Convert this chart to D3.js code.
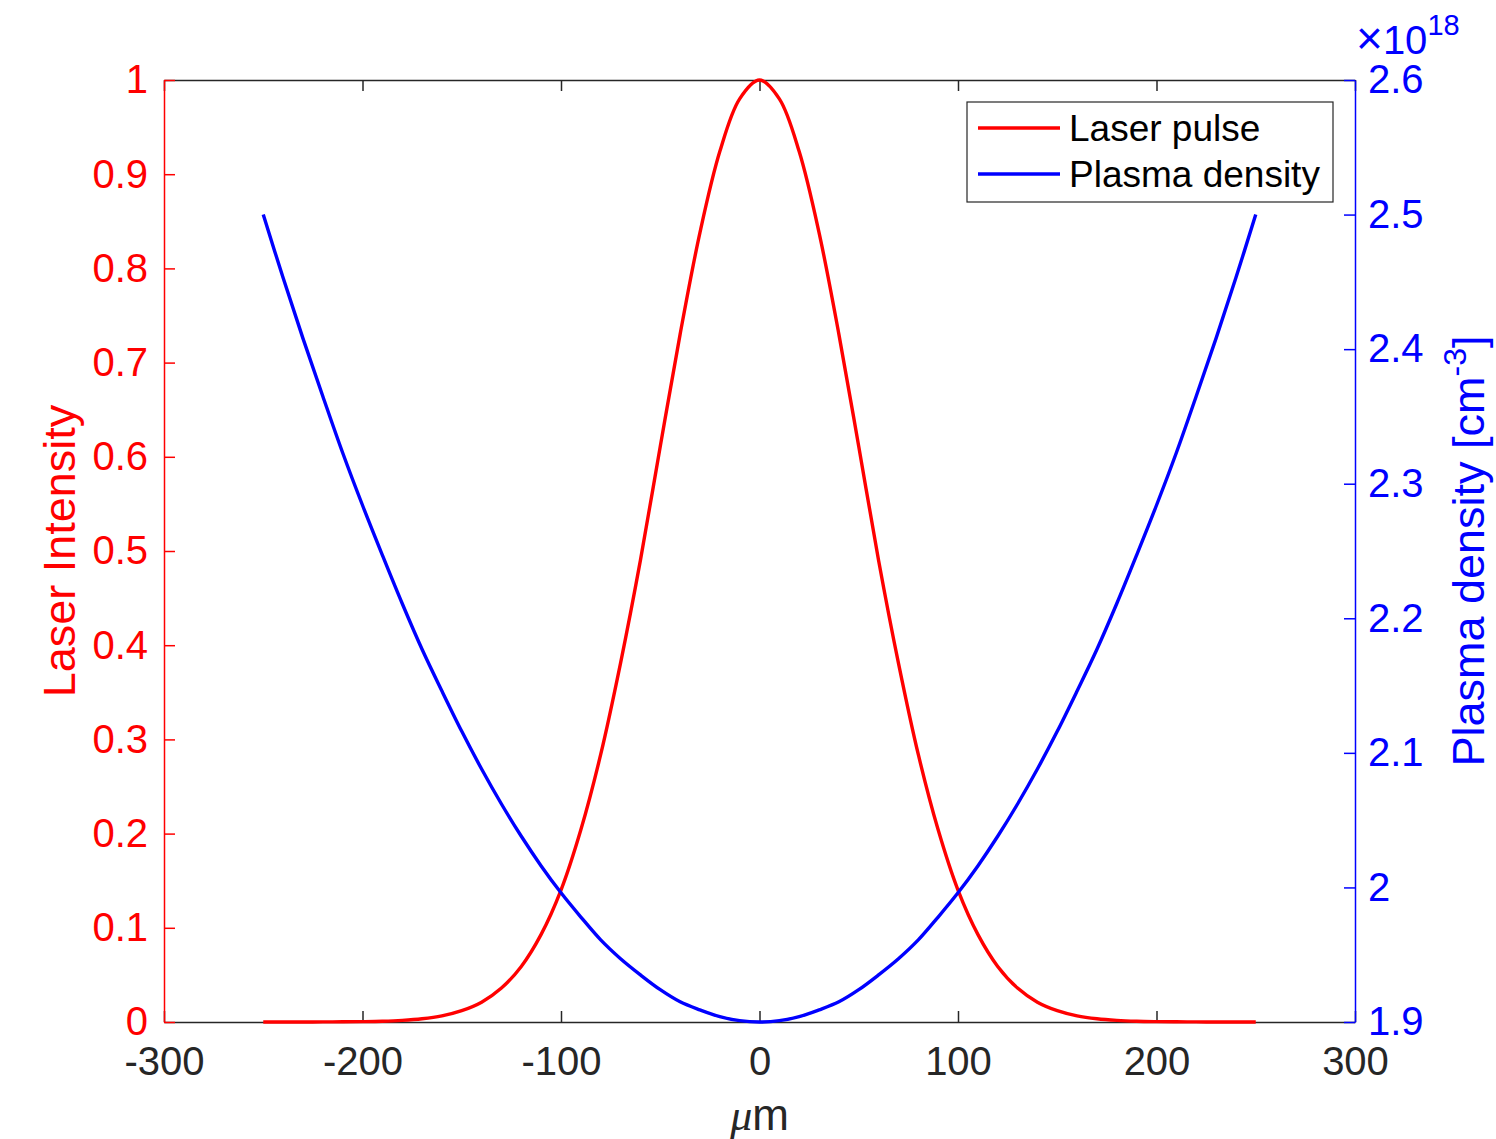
<!DOCTYPE html>
<html lang="en">
<head>
    <meta charset="UTF-8">
    <title>Laser pulse and plasma density</title>
    <script src="https://d3js.org/d3.v7.min.js"></script>
    <style>
        body { margin: 0; background: #fff; }
        svg { font-family: "Liberation Sans", Arial, Helvetica, sans-serif; }
        .tick text { font-size: 40px; }
        .curve { fill: none; stroke-width: 3.4px; }
    </style>
</head>
<body>
    <svg width="1496" height="1139"></svg>

    <script>
        // Data (position in um)
        const positions = [-250, -240, -230, -220, -210, -200, -190, -180, -170, -160, -150,
            -140, -130, -120, -110, -100, -90, -80, -70, -60, -50, -40, -30, -20, -10, 0,
            10, 20, 30, 40, 50, 60, 70, 80, 90, 100, 110, 120, 130, 140, 150,
            160, 170, 180, 190, 200, 210, 220, 230, 240, 250];

        const laserIntensity = [0, 0, 0, 0.0001, 0.0002, 0.0004, 0.0008, 0.0017, 0.0034, 0.0065, 0.012,
            0.021, 0.036, 0.059, 0.093, 0.140, 0.204, 0.284, 0.381, 0.490, 0.611, 0.730, 0.838, 0.924, 0.980, 1,
            0.980, 0.924, 0.838, 0.730, 0.611, 0.490, 0.381, 0.284, 0.204, 0.140, 0.093, 0.059, 0.036, 0.021, 0.012,
            0.0065, 0.0034, 0.0017, 0.0008, 0.0004, 0.0002, 0.0001, 0, 0, 0];

        // plasma density in units of 1e18 cm^-3
        const plasmaDensity = [2.500, 2.453, 2.408, 2.365, 2.323, 2.284, 2.247, 2.211, 2.177, 2.146, 2.116,
            2.088, 2.062, 2.038, 2.016, 1.996, 1.978, 1.961, 1.947, 1.935, 1.924, 1.915, 1.909, 1.904, 1.901, 1.900,
            1.901, 1.904, 1.909, 1.915, 1.924, 1.935, 1.947, 1.961, 1.978, 1.996, 2.016, 2.038, 2.062, 2.088, 2.116,
            2.146, 2.177, 2.211, 2.247, 2.284, 2.323, 2.365, 2.408, 2.453, 2.500];

        const xTicks = [-300, -200, -100, 0, 100, 200, 300];
        const leftTicks = [0, 0.1, 0.2, 0.3, 0.4, 0.5, 0.6, 0.7, 0.8, 0.9, 1];
        const rightTicks = [1.9, 2.0, 2.1, 2.2, 2.3, 2.4, 2.5, 2.6];

        const seriesNames = ["Laser pulse", "Plasma density"];
        const seriesColors = ["#ff0000", "#0000ff"];

        const svg = d3.select("svg");
        const plot = { left: 164, right: 1355, top: 80, bottom: 1022 };
        const axisGray = "#262626";
        const fmt = d => String(+d.toFixed(1));

        const x = d3.scaleLinear().domain([-300, 300]).range([plot.left, plot.right]);
        const yL = d3.scaleLinear().domain([0, 1]).range([plot.bottom, plot.top]);
        const yR = d3.scaleLinear().domain([1.9, 2.6]).range([plot.bottom, plot.top]);

        // top box edge with inward ticks
        const topAxis = svg.append("g")
            .attr("transform", "translate(0," + plot.top + ")")
            .call(d3.axisTop(x).tickValues(xTicks).tickSizeInner(-11).tickSizeOuter(0).tickFormat(""));
        topAxis.selectAll("path, line").attr("stroke", axisGray).attr("stroke-width", 1.5);

        // bottom x axis
        const xAxis = svg.append("g")
            .attr("transform", "translate(0," + plot.bottom + ")")
            .call(d3.axisBottom(x).tickValues(xTicks).tickSizeInner(-11).tickSizeOuter(0)
                .tickPadding(25).tickFormat(d => String(d)));
        xAxis.attr("font-family", null).attr("font-size", null);
        xAxis.selectAll("path, line").attr("stroke", axisGray).attr("stroke-width", 1.5);
        xAxis.selectAll("text").attr("fill", axisGray);

        // curves
        const laserLine = d3.line()
            .x((d, i) => x(positions[i]))
            .y(d => yL(Math.max(0, d)))
            .curve(d3.curveCatmullRom.alpha(0.5));
        const densityLine = d3.line()
            .x((d, i) => x(positions[i]))
            .y(d => yR(d))
            .curve(d3.curveCatmullRom.alpha(0.5));

        svg.append("path")
            .datum(laserIntensity)
            .attr("class", "curve")
            .attr("stroke", seriesColors[0])
            .attr("d", laserLine);

        svg.append("path")
            .datum(plasmaDensity)
            .attr("class", "curve")
            .attr("stroke", seriesColors[1])
            .attr("d", densityLine);

        // left axis (red)
        const leftAxis = svg.append("g")
            .attr("transform", "translate(" + plot.left + ",0)")
            .call(d3.axisLeft(yL).tickValues(leftTicks).tickSizeInner(-11).tickSizeOuter(0)
                .tickPadding(16).tickFormat(fmt));
        leftAxis.attr("font-family", null).attr("font-size", null);
        leftAxis.selectAll("path, line").attr("stroke", seriesColors[0]).attr("stroke-width", 1.5);
        leftAxis.selectAll("text").attr("fill", seriesColors[0]);

        // right axis (blue)
        const rightAxis = svg.append("g")
            .attr("transform", "translate(" + plot.right + ",0)")
            .call(d3.axisRight(yR).tickValues(rightTicks).tickSizeInner(-11).tickSizeOuter(0)
                .tickPadding(13).tickFormat(fmt));
        rightAxis.attr("font-family", null).attr("font-size", null);
        rightAxis.selectAll("path, line").attr("stroke", seriesColors[1]).attr("stroke-width", 1.5);
        rightAxis.selectAll("text").attr("fill", seriesColors[1]);

        // exponent label x10^18
        const expo = svg.append("text")
            .attr("x", 1356)
            .attr("y", 54)
            .attr("fill", seriesColors[1])
            .style("font-size", "40px");
        expo.append("tspan").style("font-size", "46px").style("font-weight", "300").text("×");
        expo.append("tspan").text("10");
        expo.append("tspan").attr("dy", -19).style("font-size", "29px").text("18");

        // x label
        const xLabel = svg.append("text")
            .attr("x", (plot.left + plot.right) / 2)
            .attr("y", 1130)
            .attr("text-anchor", "middle")
            .attr("fill", axisGray)
            .style("font-size", "44px");
        xLabel.append("tspan")
            .style("font-family", "'Liberation Serif', 'Times New Roman', serif")
            .style("font-style", "italic")
            .text("μ");
        xLabel.append("tspan").text("m");

        // left y label
        svg.append("text")
            .attr("transform", "translate(75," + ((plot.top + plot.bottom) / 2) + ") rotate(-90)")
            .attr("text-anchor", "middle")
            .attr("fill", seriesColors[0])
            .style("font-size", "45px")
            .text("Laser Intensity");

        // right y label
        const rLabel = svg.append("text")
            .attr("transform", "translate(1484," + ((plot.top + plot.bottom) / 2) + ") rotate(-90)")
            .attr("text-anchor", "middle")
            .attr("fill", seriesColors[1])
            .style("font-size", "45px");
        rLabel.append("tspan").text("Plasma density [cm");
        rLabel.append("tspan").attr("dy", -18).style("font-size", "32px").text("-3");
        rLabel.append("tspan").attr("dy", 18).text("]");

        // legend
        const legend = svg.append("g").attr("transform", "translate(967,102)");
        legend.append("rect")
            .attr("width", 366)
            .attr("height", 100)
            .attr("fill", "#fff")
            .attr("stroke", axisGray)
            .attr("stroke-width", 1.2);

        seriesNames.forEach((name, i) => {
            const ly = 26 + i * 46;
            legend.append("line")
                .attr("x1", 11).attr("x2", 93)
                .attr("y1", ly).attr("y2", ly)
                .attr("stroke", seriesColors[i])
                .attr("stroke-width", 3.4);
            legend.append("text")
                .attr("x", 102)
                .attr("y", ly + 13)
                .attr("fill", "#000")
                .style("font-size", "37px")
                .text(name);
        });
    </script>
</body>
</html>
